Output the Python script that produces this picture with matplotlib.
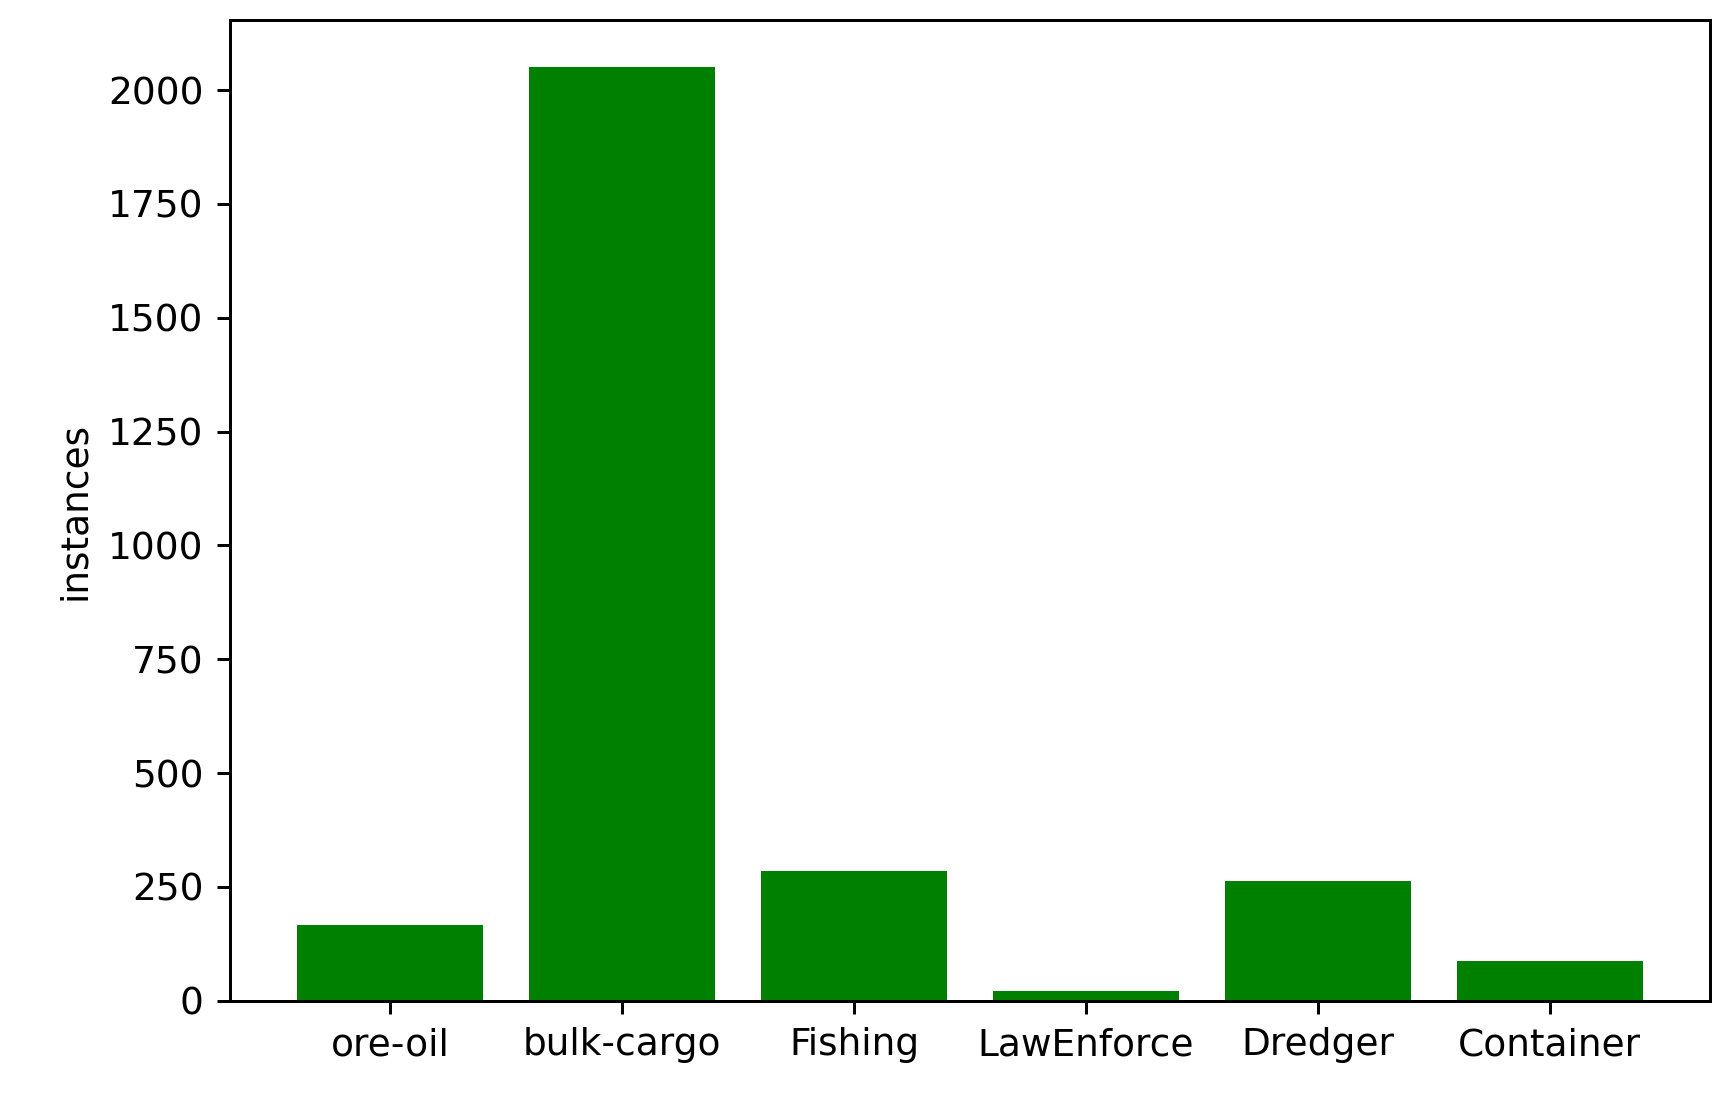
import matplotlib
matplotlib.use("Agg")
import matplotlib.pyplot as plt

categories = ["ore-oil", "bulk-cargo", "Fishing", "LawEnforce", "Dredger", "Container"]
instances = [166, 2051, 285, 22, 263, 88]

fig = plt.figure(figsize=(1729/270, 1117/270), dpi=270)
ax = fig.add_axes([0.133, 0.104, 0.856, 0.878])
ax.bar(categories, instances, color="green")
ax.set_ylabel("instances")
fig.savefig("out.png", dpi=270)
